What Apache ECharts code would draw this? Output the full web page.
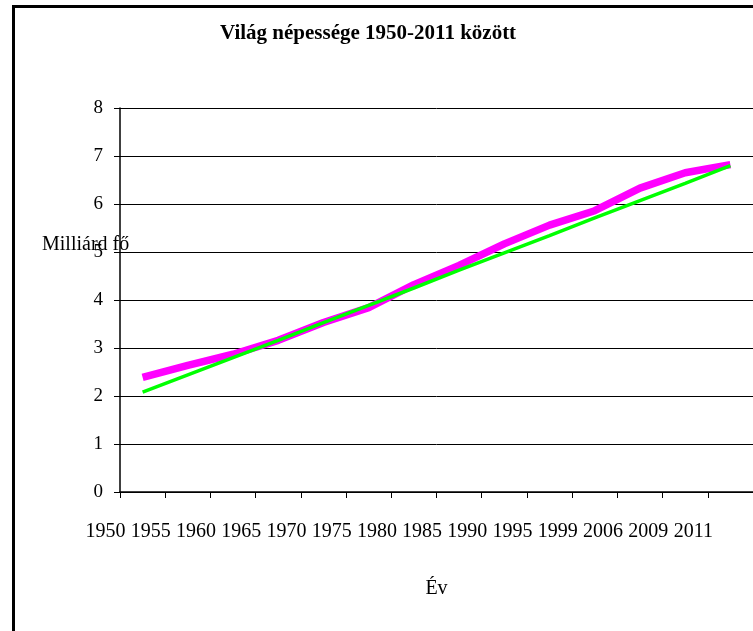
<!DOCTYPE html>
<html>
<head>
<meta charset="utf-8">
<title>Világ népessége</title>
<script src="https://cdn.jsdelivr.net/npm/echarts@6/dist/echarts.min.js"></script>
<style>
  html, body { margin: 0; padding: 0; overflow: hidden; background: #fff; }
  #main { position: absolute; left: 0; top: 0; width: 753px; height: 631px; }
  /* keret a diagram körül (jobbra/lent kilóg az ablakból) */
  #frame { position: absolute; left: 12px; top: 5px; width: 900px; height: 800px;
           border: 3px solid #000; pointer-events: none; }
</style>
</head>
<body>
<div id="main"></div>
<div id="frame"></div>
<script>
// évek (kategóriák)
var years = ['1950', '1955', '1960', '1965', '1970', '1975', '1980',
             '1985', '1990', '1995', '1999', '2006', '2009', '2011'];
// népesség, milliárd fő
var population = [2.39, 2.64, 2.87, 3.16, 3.53, 3.84, 4.32,
                  4.72, 5.17, 5.56, 5.86, 6.33, 6.65, 6.82];
// lineáris trendvonal
var trend = [2.08, 2.44, 2.80, 3.16, 3.53, 3.89, 4.25,
             4.62, 4.98, 5.34, 5.71, 6.07, 6.43, 6.80];
var yTicks = { min: 0, max: 8, interval: 1 };

var serif = 'Liberation Serif';
var myChart = echarts.init(document.getElementById('main'), null, { renderer: 'canvas' });

var option = {
  backgroundColor: '#fff',
  animation: false,
  title: [
    {
      text: 'Világ népessége 1950-2011 között',
      left: 220,
      top: 23,
      padding: 0,
      textStyle: { fontFamily: serif, fontSize: 21, fontWeight: 'bold', color: '#000' }
    },
    {
      text: 'Milliárd fő',
      left: 42,
      top: 235,
      padding: 0,
      textStyle: { fontFamily: serif, fontSize: 20, fontWeight: 'normal', color: '#000' }
    }
  ],
  grid: {
    left: 120,
    right: 0,
    top: 108,
    bottom: 139,
    containLabel: false
  },
  xAxis: {
    type: 'category',
    data: years,
    boundaryGap: true,
    name: 'Év',
    nameLocation: 'middle',
    nameGap: 87,
    nameTextStyle: { fontFamily: serif, fontSize: 20, color: '#000' },
    axisLine: { lineStyle: { color: '#000', width: 1.5 } },
    axisTick: { show: true, length: 6, lineStyle: { color: '#000' } },
    axisLabel: {
      interval: 0,
      margin: 30,
      padding: [0, 74, 0, 0],
      fontFamily: serif,
      fontSize: 20,
      color: '#000'
    },
    splitLine: { show: false }
  },
  yAxis: {
    type: 'value',
    min: yTicks.min,
    max: yTicks.max,
    interval: yTicks.interval,
    axisLine: { show: true, lineStyle: { color: '#000', width: 1.5 } },
    axisTick: { show: true, length: 6, lineStyle: { color: '#000' } },
    axisLabel: { margin: 17, fontFamily: serif, fontSize: 19, color: '#000' },
    splitLine: { show: true, lineStyle: { color: '#000', width: 1 } }
  },
  series: [
    {
      name: 'Népesség',
      type: 'line',
      data: population,
      symbol: 'none',
      lineStyle: { color: '#ff00ff', width: 7.5 },
      z: 2
    },
    {
      name: 'Trend',
      type: 'line',
      data: trend,
      symbol: 'none',
      lineStyle: { color: '#00ff00', width: 3.5 },
      z: 3
    }
  ]
};

myChart.setOption(option);
window.onresize = function () {
  myChart.resize();
};
</script>
</body>
</html>
